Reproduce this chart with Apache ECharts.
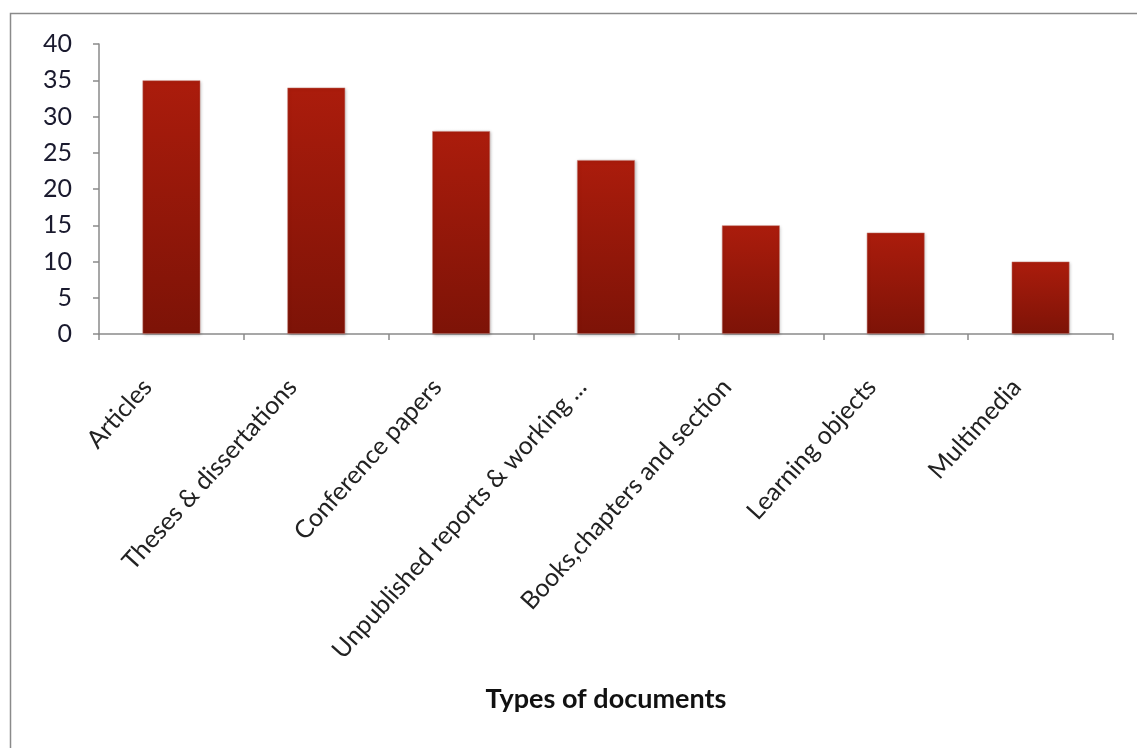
<!DOCTYPE html>
<html><head><meta charset="utf-8">
<script src="https://cdn.jsdelivr.net/npm/echarts@6/dist/echarts.min.js"></script>
<style>html,body{margin:0;padding:0;background:#fff}#c{width:1137px;height:748px}</style>
</head><body><div id="c"></div>
<script>
const categories = ["Articles","Theses & dissertations","Conference papers","Unpublished reports & working ...","Books,chapters and section","Learning objects","Multimedia"];
const values = [35, 34, 28, 24, 15, 14, 10];
const yTicks = [0,5,10,15,20,25,30,35,40];
const xTitle = "Types of documents";

const chart = echarts.init(document.getElementById('c'));
chart.setOption({
  animation:false,
  backgroundColor:'#fff',
  graphic:[{type:'rect',shape:{x:10.5,y:13.5,width:1200,height:900},style:{fill:'none',stroke:'#8a8a8a',lineWidth:1.5}}],
  grid:{left:99,right:24,top:44,bottom:414},
  xAxis:{type:'category',data:categories,boundaryGap:true,
    axisLine:{lineStyle:{color:'#8a8a8a',width:1.5}},
    axisTick:{show:true,length:6,inside:false,alignWithLabel:false,lineStyle:{color:'#8a8a8a',width:1.5}},
    axisLabel:{rotate:48,interval:0,fontFamily:'Lato',fontSize:25,color:'#222',margin:22,padding:[0,36,24,0]},
    name:xTitle,nameLocation:'middle',nameGap:352,
    nameTextStyle:{fontFamily:'Lato',fontWeight:'bold',fontSize:27,color:'#111'}},
  yAxis:{type:'value',min:0,max:40,interval:5,
    axisLine:{show:true,lineStyle:{color:'#8a8a8a',width:1.5}},
    axisTick:{show:true,length:6,lineStyle:{color:'#8a8a8a',width:1.5}},
    splitLine:{show:false},
    axisLabel:{fontFamily:'Lato',fontSize:25,color:'#1a1a2e',margin:27,
      formatter:v=>yTicks.includes(v)?String(v):''}},
  series:[{type:'bar',data:values,barWidth:58,
    itemStyle:{color:new echarts.graphic.LinearGradient(0,0,0,1,[{offset:0,color:'#ab1c0c'},{offset:1,color:'#7d1307'}]),
      borderColor:'rgba(200,120,110,0.6)',borderWidth:0.8,
      shadowColor:'rgba(0,0,0,0.25)',shadowBlur:3,shadowOffsetX:1,shadowOffsetY:1}}]
});
</script></body></html>
